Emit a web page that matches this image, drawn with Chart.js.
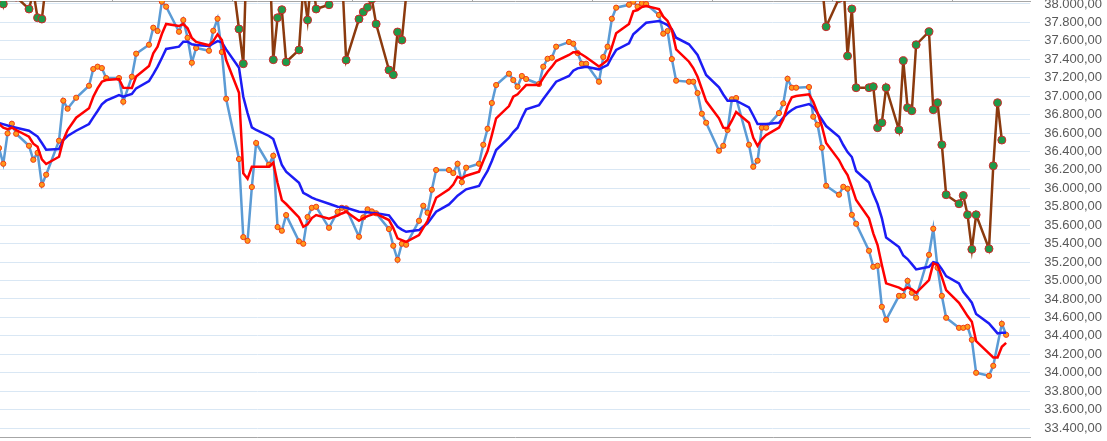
<!DOCTYPE html>
<html>
<head>
<meta charset="utf-8">
<script src="https://cdn.jsdelivr.net/npm/chart.js@4.4.0/dist/chart.umd.min.js"></script>
<style>
html, body { margin: 0; padding: 0; background: #fff; }
#wrap { width: 1107px; height: 441px; position: relative; }
</style>
</head>
<body>
<div id="wrap"><canvas id="myChart"></canvas></div>
<script>
// trading days, counted from the first monday in view
const priceDays = [
  -7, -6, -5, -4, -3, 0, 1, 2, 3, 4,
  7, 8, 9, 11, 14, 15, 16, 17, 18, 21,
  22, 24, 25, 28, 29, 30, 31, 32, 35, 36,
  37, 38, 39, 42, 43, 44, 45, 46, 49, 50,
  51, 52, 53, 56, 57, 58, 59, 60, 63, 64,
  65, 66, 67, 70, 72, 73, 74, 77, 78, 79,
  80, 81, 84, 85, 86, 87, 88, 91, 92, 93,
  94, 95, 98, 99, 100, 101, 102, 105, 106, 107,
  108, 109, 112, 113, 114, 115, 116, 119, 120, 121,
  122, 123, 126, 127, 128, 129, 130, 133, 134, 135,
  136, 137, 140, 141, 142, 143, 144, 147, 148, 149,
  150, 151, 154, 155, 156, 157, 158, 161, 162, 163,
  164, 165, 168, 169, 170, 171, 172, 175, 176, 177,
  178, 179, 182, 183, 184, 185, 186, 189, 190, 191,
  192, 193, 196, 197, 198, 199, 200, 203, 204, 205,
  206, 207, 210, 211, 212, 213, 214, 217, 218, 219,
  220, 221, 224, 225, 227, 228
];
const priceValues = [
  36437, 36267, 36597, 36701, 36592, 36462, 36310, 36386, 36039, 36148,
  36517, 36951, 36864, 36983, 37113, 37295, 37320, 37305, 37197, 37197,
  36940, 37211, 37461, 37558, 37743, 37707, 38025, 37971, 37699, 37826,
  37634, 37363, 37523, 37493, 37710, 37840, 37479, 36972, 36318, 35471,
  35431, 36014, 36492, 36256, 36354, 35580, 35540, 35710, 35425, 35399,
  35689, 35789, 35800, 35572, 35746, 35789, 35783, 35475, 35685, 35772,
  35750, 35729, 35558, 35377, 35225, 35399, 35388, 35648, 35811, 35735,
  35985, 36199, 36199, 36166, 36267, 36068, 36224, 36267, 36473, 36647,
  36926, 37121, 37244, 37175, 37103, 37219, 37186, 37132, 37320, 37406,
  37417, 37537, 37588, 37569, 37468, 37352, 37352, 37157, 37425, 37537,
  37840, 37960, 37992, 38025, 37971, 38008, 38000, 37881, 37678, 37707,
  37403, 37168, 37157, 37157, 37034, 36810, 36712, 36408, 36462, 36633,
  36966, 36980, 36473, 36234, 36300, 36658, 36658, 36817, 36922, 37189,
  37092, 37092, 37099, 36777, 36690, 36441, 36028, 35931, 36017, 35996,
  35713, 35616, 35323, 35149, 35160, 34715, 34574, 34834, 34834, 34997,
  34867, 34813, 35279, 35562, 35138, 34834, 34596, 34487, 34487, 34498,
  34357, 33999, 33966, 34075, 34531, 34411
];

// short average (red)
const fastDays = [
  -7, -6, -5, -4, -3, 0, 1, 2, 3, 4,
  7, 8, 9, 11, 14, 15, 16, 17, 18, 21,
  22, 24, 25, 28, 29, 30, 31, 32, 35, 36,
  37, 38, 39, 42, 43, 44, 45, 46, 49, 50,
  51, 52, 53, 56, 57, 58, 59, 60, 63, 64,
  65, 66, 67, 70, 72, 73, 74, 77, 78, 79,
  80, 81, 84, 85, 86, 87, 88, 91, 92, 93,
  94, 95, 98, 99, 100, 101, 102, 105, 106, 107,
  108, 109, 112, 113, 114, 115, 116, 119, 120, 121,
  122, 123, 126, 127, 128, 129, 130, 133, 134, 135,
  136, 137, 140, 141, 142, 143, 144, 147, 148, 149,
  150, 151, 154, 155, 156, 157, 158, 161, 162, 163,
  164, 165, 168, 169, 170, 171, 172, 175, 176, 177,
  178, 179, 182, 183, 184, 185, 186, 189, 190, 191,
  192, 193, 196, 197, 198, 199, 200, 203, 204, 205,
  206, 207, 210, 211, 212, 213, 214, 217, 218, 219,
  220, 221, 224, 225, 226, 227, 228
];
const fastValues = [
  36698, 36658, 36643, 36658, 36633, 36560, 36484, 36451, 36315, 36264,
  36343, 36524, 36633, 36766, 36868, 36994, 37085, 37157, 37175, 37186,
  37092, 37088, 37213, 37327, 37465, 37537, 37674, 37783, 37761, 37783,
  37736, 37631, 37588, 37552, 37598, 37671, 37609, 37392, 37037, 36163,
  36104, 36234, 36234, 36234, 36278, 36057, 35873, 35830, 35685, 35583,
  35609, 35678, 35710, 35670, 35703, 35727, 35746, 35648, 35678, 35699,
  35715, 35724, 35656, 35569, 35457, 35439, 35420, 35493, 35572, 35648,
  35775, 35898, 35989, 36041, 36126, 36109, 36137, 36180, 36296, 36405,
  36578, 36760, 36893, 36994, 37020, 37072, 37121, 37121, 37197, 37265,
  37320, 37381, 37447, 37476, 37476, 37452, 37422, 37322, 37354, 37392,
  37533, 37682, 37783, 37921, 37935, 37967, 37978, 37946, 37862, 37816,
  37718, 37508, 37374, 37305, 37211, 37078, 36947, 36760, 36658, 36651,
  36734, 36828, 36712, 36549, 36462, 36532, 36578, 36658, 36749, 36893,
  36988, 37002, 37020, 36940, 36820, 36676, 36492, 36307, 36217, 36144,
  36014, 35873, 35674, 35512, 35385, 35168, 34969, 34923, 34896, 34926,
  34904, 34867, 35005, 35186, 35168, 35037, 34896, 34759, 34687, 34614,
  34552, 34343, 34209, 34166, 34166, 34281, 34324
];

// long average (blue)
const slowDays = [
  -7, -4, 0, 2, 3, 4, 7, 8, 9, 11,
  14, 15, 16, 17, 18, 21, 22, 24, 25, 28,
  29, 30, 31, 32, 35, 36, 37, 38, 39, 42,
  43, 44, 45, 46, 49, 50, 51, 52, 53, 56,
  57, 58, 59, 60, 63, 64, 65, 66, 67, 70,
  72, 73, 74, 77, 78, 79, 80, 81, 84, 85,
  86, 87, 88, 91, 92, 93, 94, 95, 98, 99,
  100, 101, 102, 105, 106, 107, 108, 109, 112, 113,
  114, 115, 116, 119, 120, 121, 122, 123, 126, 127,
  128, 129, 130, 133, 134, 135, 136, 137, 140, 141,
  142, 143, 144, 147, 148, 149, 150, 151, 154, 155,
  156, 157, 158, 161, 162, 163, 164, 165, 168, 169,
  170, 171, 172, 175, 176, 177, 178, 179, 182, 183,
  184, 185, 186, 189, 190, 191, 192, 193, 196, 197,
  198, 199, 200, 203, 204, 205, 206, 207, 210, 211,
  212, 213, 214, 217, 218, 219, 220, 221, 224, 225,
  226, 227, 228
];
const slowValues = [
  36709, 36668, 36625, 36562, 36492, 36419, 36426, 36524, 36568, 36625,
  36698, 36770, 36839, 36912, 36951, 37012, 36994, 37023, 37085, 37164,
  37240, 37320, 37414, 37512, 37537, 37591, 37591, 37563, 37555, 37544,
  37571, 37598, 37584, 37508, 37309, 36994, 36817, 36662, 36633, 36568,
  36535, 36397, 36253, 36180, 36061, 35952, 35927, 35900, 35881, 35833,
  35800, 35797, 35789, 35746, 35743, 35740, 35734, 35729, 35707, 35645,
  35583, 35553, 35529, 35547, 35585, 35620, 35683, 35746, 35826, 35873,
  35920, 35954, 35989, 36025, 36112, 36188, 36296, 36416, 36549, 36611,
  36658, 36763, 36857, 36901, 36969, 37031, 37094, 37157, 37219, 37276,
  37302, 37311, 37320, 37291, 37316, 37338, 37425, 37501, 37574, 37671,
  37712, 37754, 37797, 37816, 37794, 37772, 37725, 37634, 37563, 37506,
  37447, 37338, 37230, 37096, 37018, 36951, 36951, 36951, 36879, 36790,
  36698, 36698, 36698, 36712, 36768, 36814, 36850, 36879, 36915, 36882,
  36814, 36747, 36676, 36560, 36470, 36394, 36340, 36188, 36063, 35938,
  35830, 35678, 35466, 35363, 35271, 35233, 35178, 35121, 35149, 35200,
  35186, 35124, 35048, 34969, 34878, 34820, 34759, 34636, 34535, 34481,
  34426, 34433, 34433
];

// second instrument (brown), mostly above the visible range
const otherDays = [
  -7, -6, -5, -3, 0, 1, 2, 3, 4, 46,
  49, 50, 51, 56, 57, 58, 59, 60, 63, 64,
  65, 66, 67, 70, 73, 74, 77, 78, 79, 80,
  81, 84, 85, 86, 87, 88, 185, 186, 189, 190,
  191, 192, 193, 196, 197, 198, 199, 200, 203, 204,
  205, 206, 207, 210, 211, 212, 213, 214, 217, 218,
  219, 220, 221, 224, 225, 226, 227
];
const otherValues = [
  38200, 38000, 38300, 38076, 37946, 38130, 37851, 37837, 38240, 38810,
  37729, 37352, 38835, 38690, 37396, 37851, 37938, 37371, 37501, 38190,
  37826, 38370, 37946, 37992, 38358, 37392, 37837, 37913, 37964, 38054,
  37783, 37284, 37233, 37696, 37609, 38090, 38237, 37754, 38060, 38264,
  37436, 37946, 37092, 37092, 37103, 36658, 36712, 37092, 36633, 37385,
  36875, 36842, 37558, 37699, 36853, 36929, 36473, 35931, 35833, 35922,
  35713, 35338, 35713, 35344, 36245, 36929, 36524
];

// top axis marks every four weeks
const periodTicks = [19.6, 47.6, 75.6, 103.6, 131.6, 159.6, 187.6, 215.6];

function pairs(days, values) {
  return days.map((d, i) => ({ x: d, y: values[i] }));
}

function formatDe(v) {
  const whole = Math.round(v).toString().replace(/\B(?=(\d{3})+(?!\d))/g, '.');
  return whole + ',00';
}

let ctx = document.getElementById('myChart');

new Chart(ctx, {
  type: 'line',
  data: {
    datasets: [
      {
        label: 'other',
        data: pairs(otherDays, otherValues),
        borderColor: '#8b3a0e',
        borderWidth: 2.5,
        pointRadius: 4,
        pointBackgroundColor: '#1e9a48',
        pointBorderColor: '#d0262a',
        pointBorderWidth: 1,
        order: 0
      },
      {
        label: 'fast',
        data: pairs(fastDays, fastValues),
        borderColor: '#ff0000',
        borderWidth: 2.5,
        pointRadius: 0,
        order: 1
      },
      {
        label: 'slow',
        data: pairs(slowDays, slowValues),
        borderColor: '#1c1cf5',
        borderWidth: 2.5,
        pointRadius: 0,
        order: 2
      },
      {
        label: 'price',
        data: pairs(priceDays, priceValues),
        borderColor: '#5b9bd5',
        borderWidth: 2.5,
        pointRadius: 2.6,
        pointBackgroundColor: '#ff9a1a',
        pointBorderColor: '#f03c14',
        pointBorderWidth: 1,
        order: 3
      }
    ]
  },
  options: {
    responsive: true,
    maintainAspectRatio: false,
    animation: false,
    layout: { autoPadding: false, padding: { top: 0, right: 5, bottom: 0, left: 0 } },
    plugins: {
      legend: { display: false },
      tooltip: { enabled: false }
    },
    elements: { line: { tension: 0 } },
    scales: {
      x: {
        type: 'linear',
        position: 'top',
        min: -6.767,
        max: 233.57,
        afterBuildTicks: s => { s.ticks = periodTicks.map(v => ({ value: v })); },
        afterFit: s => { s.height = 1; },
        ticks: { display: false },
        grid: { drawOnChartArea: false, drawTicks: true, tickLength: 4, color: '#a6a6a6' },
        border: { color: '#a6a6a6' }
      },
      xBottom: {
        type: 'linear',
        position: 'bottom',
        min: -6.767,
        max: 233.57,
        afterFit: s => { s.height = 4; },
        ticks: { display: false },
        grid: { drawOnChartArea: false, drawTicks: false },
        border: { color: '#a6a6a6' }
      },
      y: {
        position: 'right',
        min: 33302.4,
        max: 38032.5,
        afterFit: s => { s.width = 72; s.paddingTop = 0; s.paddingBottom = 0; },
        ticks: {
          stepSize: 200,
          autoSkip: false,
          includeBounds: false,
          crossAlign: 'far',
          color: '#595959',
          font: { family: 'Liberation Sans', size: 13 },
          callback: v => formatDe(v)
        },
        grid: { color: '#d9e7f4', drawTicks: false, lineWidth: 1 },
        border: { display: false }
      }
    }
  }
});
</script>
</body>
</html>
